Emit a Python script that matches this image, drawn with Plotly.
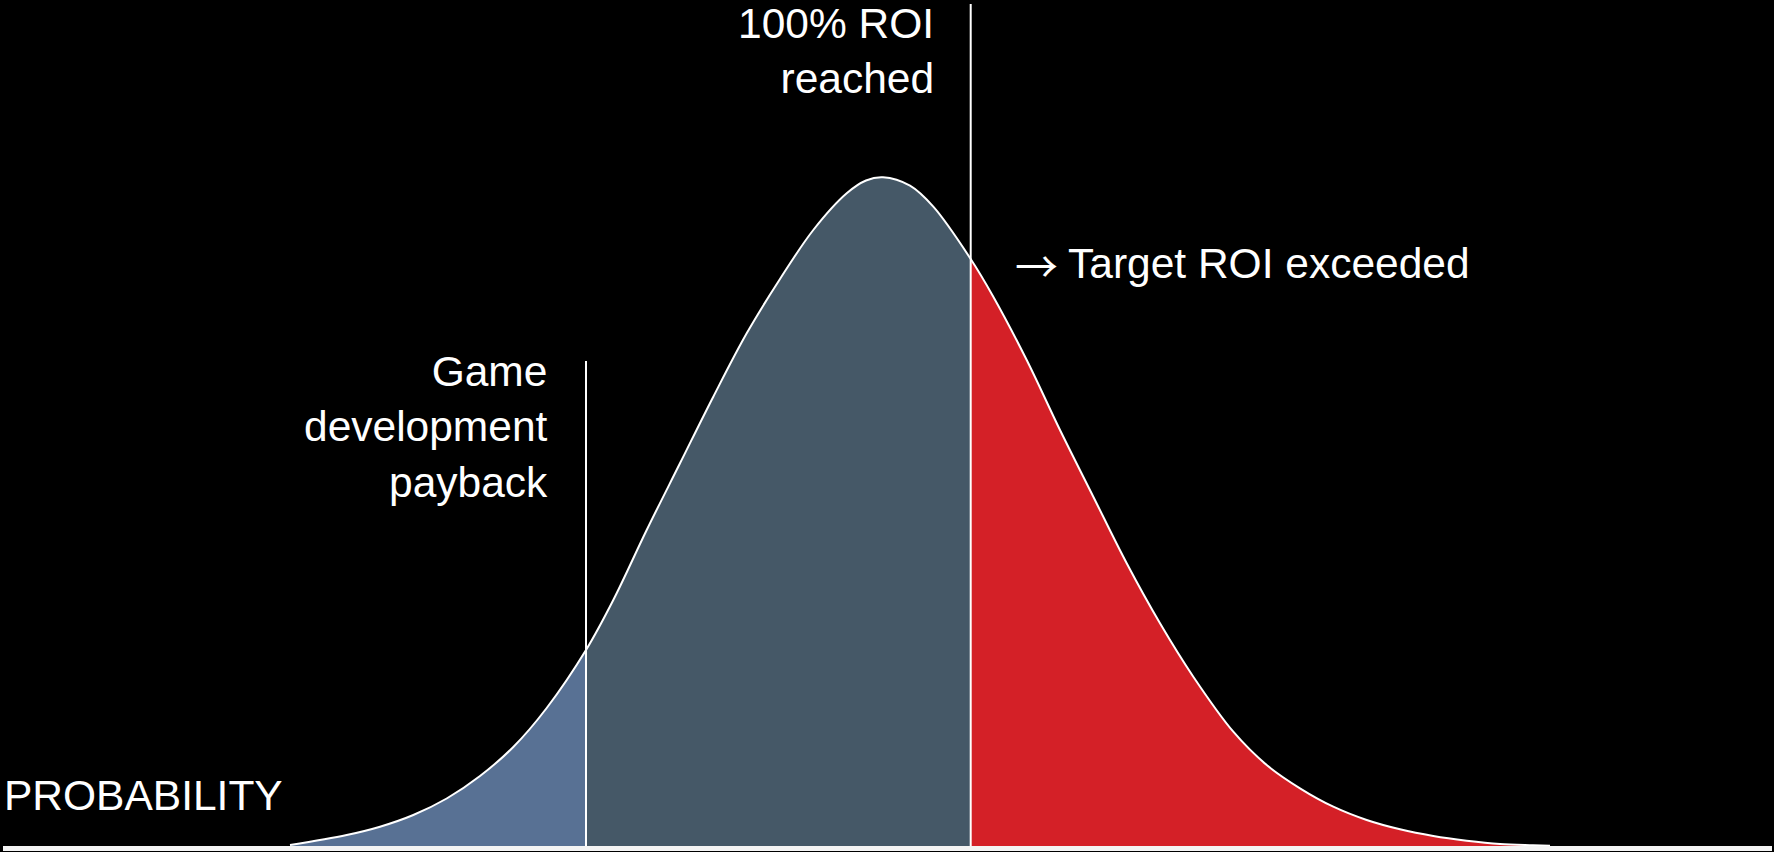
import plotly.graph_objects as go

# Outcome distribution curve: horizontal position along the return scale,
# and height of the probability curve above the baseline.
curve_x = [290, 346.7, 380, 413.3, 446.7, 480, 513.3, 546.7, 586, 613.3, 646.7,
           680, 713.3, 746.7, 780, 813.3, 846.7, 866, 883, 910, 933.3, 970.7,
           993.3, 1026.7, 1060, 1093.3, 1126.7, 1160, 1193.3, 1233.3, 1266.7,
           1300, 1333.3, 1366.7, 1400, 1433.3, 1466.7, 1500, 1533, 1550]
curve_y = [1, 11, 19.3, 31, 47.5, 70, 99, 138, 196, 246, 316,
           382.7, 449.3, 512.7, 567, 616, 652.7, 665.5, 668.7, 660.3, 639.3, 587,
           549.3, 486, 416, 349.3, 282.7, 222.7, 169.3, 114.3, 81,
           57.7, 39.3, 26, 16.7, 10, 5.3, 2, 0.8, 0.3]

# Thresholds on the return scale
payback_x = 586
target_x = 970.7
payback_line_top = 485
target_line_top = 842

# Region fills
region_colors = {
    "below_payback": "#587194",
    "payback_to_target": "#455867",
    "above_target": "#D42027",
}

FONT = "Liberation Sans, Arial, sans-serif"
TEXT_SIZE = 42.5


def segment(lo, hi):
    xs, ys = [], []
    for x, y in zip(curve_x, curve_y):
        if lo <= x <= hi:
            xs.append(x)
            ys.append(y)
    return xs, ys


fig = go.Figure()

for (lo, hi), key in [((-1e9, payback_x), "below_payback"),
                      ((payback_x, target_x), "payback_to_target"),
                      ((target_x, 1e9), "above_target")]:
    xs, ys = segment(lo, hi)
    fig.add_trace(go.Scatter(
        x=xs, y=ys, mode="lines", fill="tozeroy",
        line=dict(width=0, shape="spline", smoothing=1.0),
        fillcolor=region_colors[key], hoverinfo="skip",
    ))

# white outline of the curve
fig.add_trace(go.Scatter(
    x=curve_x, y=curve_y, mode="lines",
    line=dict(color="white", width=2, shape="spline", smoothing=1.0),
    hoverinfo="skip",
))

# threshold markers
fig.add_trace(go.Scatter(x=[payback_x, payback_x], y=[0, payback_line_top],
                         mode="lines", line=dict(color="white", width=2),
                         hoverinfo="skip"))
fig.add_trace(go.Scatter(x=[target_x, target_x], y=[0, target_line_top],
                         mode="lines", line=dict(color="white", width=2),
                         hoverinfo="skip"))

# baseline
fig.add_trace(go.Scatter(x=[3, 1772], y=[-2.4, -2.4], mode="lines",
                         line=dict(color="#F4F4F4", width=5), hoverinfo="skip"))

ann_font = dict(family=FONT, size=TEXT_SIZE, color="white")
annotations = [
    dict(x=934, y=795, text="100% ROI<br>reached", xanchor="right",
         yanchor="middle", align="right"),
    dict(x=548, y=419.2, text="Game<br>development<br>payback", xanchor="right",
         yanchor="middle", align="right"),
    dict(x=1470, y=583, text="Target ROI exceeded", xanchor="right",
         yanchor="middle", align="left"),
    dict(x=4, y=50.5, text="PROBABILITY", xanchor="left",
         yanchor="middle", align="left"),
]
for a in annotations:
    fig.add_annotation(**a, xref="x", yref="y", showarrow=False,
                       font=ann_font, borderpad=0, borderwidth=0)

# arrow leading into the target label
fig.add_annotation(x=1036, y=582, text="\u2192", xref="x", yref="y",
                   xanchor="center", yanchor="middle", showarrow=False,
                   font=dict(family="Noto Sans CJK JP", size=43, color="white"),
                   borderpad=0, borderwidth=0)

fig.update_layout(
    width=1774, height=852,
    margin=dict(l=0, r=0, t=0, b=0),
    paper_bgcolor="black", plot_bgcolor="black",
    showlegend=False, hovermode=False,
    xaxis=dict(range=[0, 1774], visible=False, fixedrange=True),
    yaxis=dict(range=[-6, 846], visible=False, fixedrange=True),
)

fig.write_html("out.html", config={"displayModeBar": False})
